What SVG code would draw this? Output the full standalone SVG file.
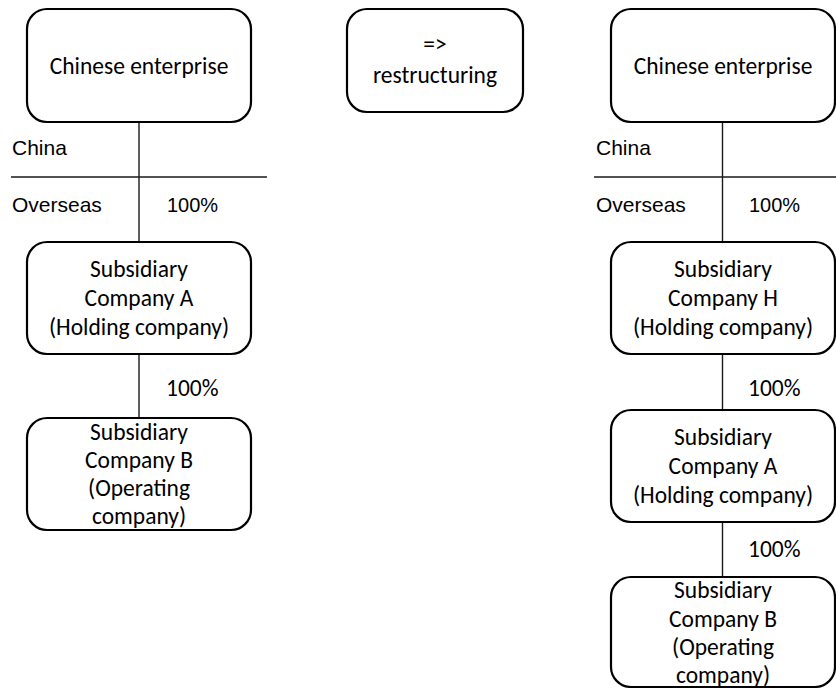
<svg xmlns="http://www.w3.org/2000/svg" width="836" height="688" viewBox="0 0 836 688">
<style>
.box{fill:#fff;stroke:#000;stroke-width:2.2}
.t{font-family:Carlito,Lato,"Open Sans",sans-serif;font-size:23.5px;fill:#000;text-anchor:middle}
.p{font-family:Carlito,Lato,"Open Sans",sans-serif;font-size:23.5px;fill:#000}
.a{font-family:"Liberation Sans",Arial,sans-serif;font-size:21px;fill:#000}
.n{font-family:"Liberation Sans",Arial,sans-serif;font-size:20px;fill:#000}
.ln{stroke:#1a1a1a;stroke-width:1.4;fill:none}
</style>
<rect width="836" height="688" fill="#fff"/>
<g id="connectors">
<line class="ln" x1="139" y1="122" x2="139" y2="242"/>
<line class="ln" x1="11" y1="177" x2="267" y2="177"/>
<line class="ln" x1="139" y1="354" x2="139" y2="418"/>
<line class="ln" x1="722.5" y1="122" x2="722.5" y2="242"/>
<line class="ln" x1="594" y1="177" x2="836" y2="177"/>
<line class="ln" x1="722.5" y1="354" x2="722.5" y2="410"/>
<line class="ln" x1="722.5" y1="522" x2="722.5" y2="577"/>
</g>
<g id="labels">
<text class="a" x="12" y="155">China</text>
<text class="a" x="12" y="212">Overseas</text>
<text class="n" x="167" y="212">100%</text>
<text class="p" x="166" y="396">100%</text>
<text class="a" x="596" y="155">China</text>
<text class="a" x="596" y="212">Overseas</text>
<text class="n" x="749" y="212">100%</text>
<text class="p" x="748" y="396">100%</text>
<text class="p" x="748" y="557">100%</text>
</g>
<g id="left-chinese-enterprise">
<rect class="box" x="27" y="9" width="224" height="113" rx="20"/>
<text class="t" x="139" y="74">Chinese enterprise</text>
</g>
<g id="restructuring">
<rect class="box" x="347" y="9" width="176" height="103" rx="20"/>
<text class="t" x="435" y="52">=&gt;</text>
<text class="t" x="435" y="83">restructuring</text>
</g>
<g id="left-sub-a">
<rect class="box" x="27" y="242" width="224" height="112" rx="20"/>
<text class="t" x="139" y="277">Subsidiary</text>
<text class="t" x="139" y="306">Company A</text>
<text class="t" x="139" y="335">(Holding company)</text>
</g>
<g id="left-sub-b">
<rect class="box" x="27" y="418" width="224" height="112" rx="20"/>
<text class="t" x="139" y="440">Subsidiary</text>
<text class="t" x="139" y="468">Company B</text>
<text class="t" x="139" y="496">(Operating</text>
<text class="t" x="139" y="524">company)</text>
</g>
<g id="right-chinese-enterprise">
<rect class="box" x="611" y="9" width="224" height="113" rx="20"/>
<text class="t" x="723" y="74">Chinese enterprise</text>
</g>
<g id="right-sub-h">
<rect class="box" x="611" y="242" width="224" height="112" rx="20"/>
<text class="t" x="723" y="277">Subsidiary</text>
<text class="t" x="723" y="306">Company H</text>
<text class="t" x="723" y="335">(Holding company)</text>
</g>
<g id="right-sub-a">
<rect class="box" x="611" y="410" width="224" height="112" rx="20"/>
<text class="t" x="723" y="445">Subsidiary</text>
<text class="t" x="723" y="474">Company A</text>
<text class="t" x="723" y="503">(Holding company)</text>
</g>
<g id="right-sub-b">
<rect class="box" x="611" y="577" width="224" height="110" rx="20"/>
<text class="t" x="723" y="598">Subsidiary</text>
<text class="t" x="723" y="627">Company B</text>
<text class="t" x="723" y="655">(Operating</text>
<text class="t" x="723" y="683">company)</text>
</g>
</svg>
